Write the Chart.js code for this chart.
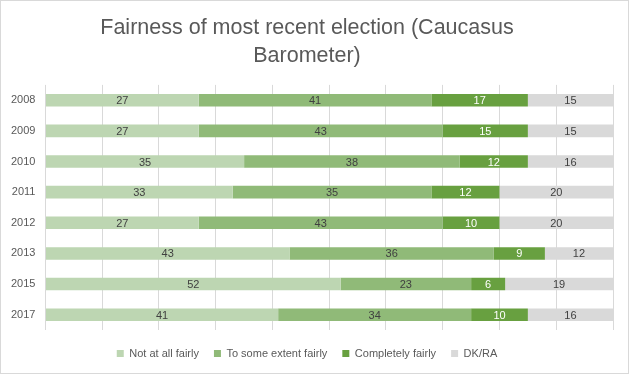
<!DOCTYPE html>
<html><head><meta charset="utf-8">
<script src="https://cdn.jsdelivr.net/npm/chart.js@4/dist/chart.umd.min.js"></script>
<style>
html,body{margin:0;padding:0;background:#fff;}
#wrap{position:relative;width:627px;height:372px;border:1px solid #D9D9D9;}
</style></head>
<body><div id="wrap"><canvas id="c" width="627" height="372"></canvas></div>
<script>
const years = ['2008','2009','2010','2011','2012','2013','2015','2017'];
const notAtAll = [27,27,35,33,27,43,52,41];
const someExtent = [41,43,38,35,43,36,23,34];
const completely = [17,15,12,12,10,9,6,10];
const dkra = [15,15,16,20,20,12,19,16];
const seriesNames = ['Not at all fairly','To some extent fairly','Completely fairly','DK/RA'];
const colors = ['#BDD6B2','#90BA78','#68A040','#D9D9D9'];
const labelColors = ['#404040','#404040','#FFFFFF','#404040'];
const FONT = "'Liberation Sans', Arial, sans-serif";

const labelPlugin = {
  id:'barLabels',
  afterDatasetsDraw(chart){
    const ctx = chart.ctx;
    ctx.save();
    ctx.font = '11px ' + FONT;
    ctx.textAlign = 'center';
    ctx.textBaseline = 'middle';
    chart.data.datasets.forEach((ds,i)=>{
      const meta = chart.getDatasetMeta(i);
      meta.data.forEach((bar,j)=>{
        const left = Math.min(bar.x, bar.base);
        const right = Math.min(Math.max(bar.x, bar.base), chart.chartArea.right);
        ctx.fillStyle = labelColors[i];
        ctx.fillText(String(ds.data[j]), (left+right)/2, bar.y+1);
      });
    });
    ctx.restore();
  }
};

const data = [notAtAll, someExtent, completely, dkra];
new Chart(document.getElementById('c'), {
  type:'bar',
  data:{
    labels: years,
    datasets: data.map((d,i)=>({label:seriesNames[i], data:d, backgroundColor:colors[i], categoryPercentage:0.82, barPercentage:0.5}))
  },
  options:{
    indexAxis:'y',
    responsive:false,
    animation:false,
    layout:{padding:{left:0,right:15,top:7,bottom:4}},
    scales:{
      x:{stacked:true,min:0,max:100,ticks:{display:false,stepSize:10},grid:{color:'#D9D9D9',drawTicks:false},border:{display:false},afterFit(s){s.height=3;}},
      y:{stacked:true,grid:{display:false,drawTicks:false},border:{display:false},ticks:{color:'#595959',font:{family:FONT,size:11},padding:10}}
    },
    plugins:{
      title:{display:true,text:['Fairness of most recent election (Caucasus','Barometer)'],color:'#595959',font:{family:FONT,size:21.5,weight:'normal',lineHeight:1.3},padding:{top:6,bottom:15}},
      legend:{position:'bottom',labels:{color:'#595959',font:{family:FONT,size:11},boxWidth:7,boxHeight:7,padding:15}},
      tooltip:{enabled:false}
    }
  },
  plugins:[labelPlugin]
});
</script></body></html>
